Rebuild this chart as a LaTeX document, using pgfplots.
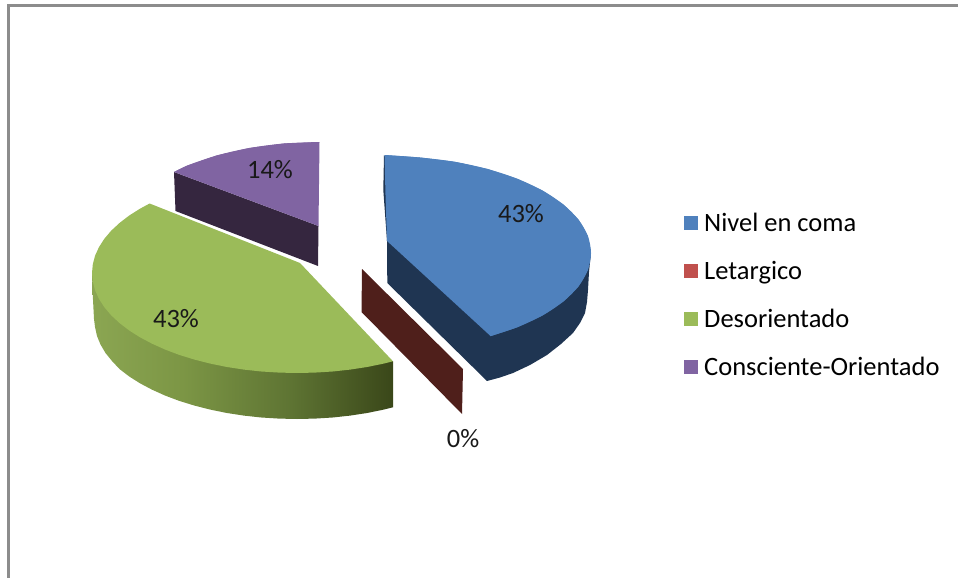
\documentclass[border=0pt]{standalone}
\usepackage{pgfplots}
\pgfplotsset{compat=1.18}
\usepackage{fontspec}
\setmainfont{Carlito}
\definecolor{cblue}{HTML}{4F81BD}
\definecolor{cblued}{HTML}{1F3552}
\definecolor{cred}{HTML}{C0504D}
\definecolor{credd}{HTML}{4F1F1B}
\definecolor{cgreen}{HTML}{9BBB59}
\definecolor{cpurple}{HTML}{8064A2}
\definecolor{cpurpled}{HTML}{35263F}
\definecolor{gsa}{HTML}{8BA652}
\definecolor{gsb}{HTML}{7C9645}
\definecolor{gsc}{HTML}{5E7433}
\definecolor{gsd}{HTML}{3A4719}
\definecolor{cframe}{HTML}{8C8C8C}
\pgfdeclarehorizontalshading{greenside}{100bp}{color(0bp)=(gsa); color(25bp)=(gsa); color(40bp)=(gsb); color(58bp)=(gsc); color(75bp)=(gsd); color(100bp)=(gsd)}
\begin{document}
\begin{tikzpicture}
\begin{axis}[
  scale only axis, width=958pt, height=578pt,
  xmin=0, xmax=958, ymin=0, ymax=578, y dir=reverse,
  hide axis,
  font=\fontsize{26.5}{30}\selectfont,
  legend image code/.code={\path[#1,draw=none] (0pt,-7pt) rectangle (14pt,7pt);},
  legend cell align=left,
  legend style={draw=none, fill=none, inner sep=0pt, at={(axis cs:684,213)}, anchor=north west,
    row sep=28.2pt, font=\fontsize{26.5}{30}\selectfont,
    nodes={inner xsep=6pt, inner ysep=0pt}},
]
% frame
\addplot[forget plot, color=cframe, line width=3pt] coordinates {(8,578) (8,6) (958,6)};
% purple
\addplot[forget plot, fill=cpurpled, draw=none] coordinates {(174,172) (175.5,211) (318,266) (318.5,226)} -- cycle;
\addplot[forget plot, fill=cpurple, draw=none] coordinates {(174,172) (187.7,165.4) (217,155.4) (249.4,148) (283.9,143.5) (319.5,142) (318.5,226)} -- cycle;
\addplot[forget plot, fill=cpurple, draw=none, smooth] coordinates {(174,172) (187.7,165.4) (217,155.4) (249.4,148) (283.9,143.5) (319.5,142)};
% green side
\addplot[forget plot, draw=none, shade, shading=greenside] coordinates {(92,273) (92.5,290) (94,319) (95,327) (97,336) (100.5,344.5) (105.5,353) (112,361) (119.5,369) (129.1,376.4) (140,383.3) (152.1,389.7) (165.2,395.6) (179.3,400.9) (194.5,405.6) (210.3,409.6) (226.9,413) (243.9,415.6) (261.3,417.5) (279.2,418.6) (297,419) (314.8,418.6) (332.7,417.5) (350.1,415.6) (367.1,413) (383.7,409.6) (393,407.3) (393,361.3)} -- cycle;
% green top
\addplot[forget plot, fill=cgreen, draw=none] coordinates {(300,263) (149.6,203.5) (140,208.7) (129.1,215.6) (119.5,223) (111.2,230.7) (104.3,238.8) (99,247.1) (95.1,255.6) (92.8,264.3) (92,273) (92.8,281.7) (95.1,290.4) (99,298.9) (104.3,307.2) (111.2,315.3) (119.5,323) (129.1,330.4) (140,337.3) (152.1,343.7) (165.2,349.6) (179.3,354.9) (194.5,359.6) (210.3,363.6) (226.9,367) (243.9,369.6) (261.3,371.5) (279.2,372.6) (297,373) (314.8,372.6) (332.7,371.5) (350.1,369.6) (367.1,367) (383.7,363.6) (393,361.3)} -- cycle;
% red (zero slice)
\addplot[forget plot, fill=credd, draw=none] coordinates {(362,269) (463,369) (462,414) (361.5,312)} -- cycle;
% blue side
\addplot[forget plot, fill=cblued, draw=none] coordinates {(384,155) (383.3,190) (387,241) (387.3,283) (487,381) (500,377.5) (513,373) (530,365) (547,355) (561,344) (573,333) (580,323) (585,313) (587,302) (588,290) (589,272) (591,253) (490.6,336)} -- cycle;
% blue top
\addplot[forget plot, fill=cblue, draw=none] coordinates {(384.5,155) (420,157.5) (454.8,161.8) (487.5,169) (517.1,178.7) (542.6,190.6) (563.3,204.5) (578.6,219.8) (587.9,236.1) (591,253) (587.9,269.9) (578.6,286.2) (563.3,301.5) (542.6,315.4) (517.1,327.3) (490.6,336.1) (387,241) (385.5,195)} -- cycle;
\addplot[forget plot, fill=cblue, draw=none, smooth] coordinates {(384.5,155) (420,157.5) (454.8,161.8) (487.5,169) (517.1,178.7) (542.6,190.6) (563.3,204.5) (578.6,219.8) (587.9,236.1) (591,253) (587.9,269.9) (578.6,286.2) (563.3,301.5) (542.6,315.4) (517.1,327.3) (490.6,336.1)};
% labels
\node[text=black!90] at (axis cs:521,214) {43\%};
\node[text=black!90] at (axis cs:176,319) {43\%};
\node[text=black!90] at (axis cs:270,170) {14\%};
\node[text=black!90] at (axis cs:463,439) {0\%};
% legend
\addlegendimage{fill=cblue}
\addlegendentry{Nivel en coma}
\addlegendimage{fill=cred}
\addlegendentry{Letargico}
\addlegendimage{fill=cgreen}
\addlegendentry{Desorientado}
\addlegendimage{fill=cpurple}
\addlegendentry{Consciente-Orientado}
\end{axis}
\pgfresetboundingbox
\path[use as bounding box] (0pt,0pt) rectangle (958pt,578pt);
\end{tikzpicture}
\end{document}
